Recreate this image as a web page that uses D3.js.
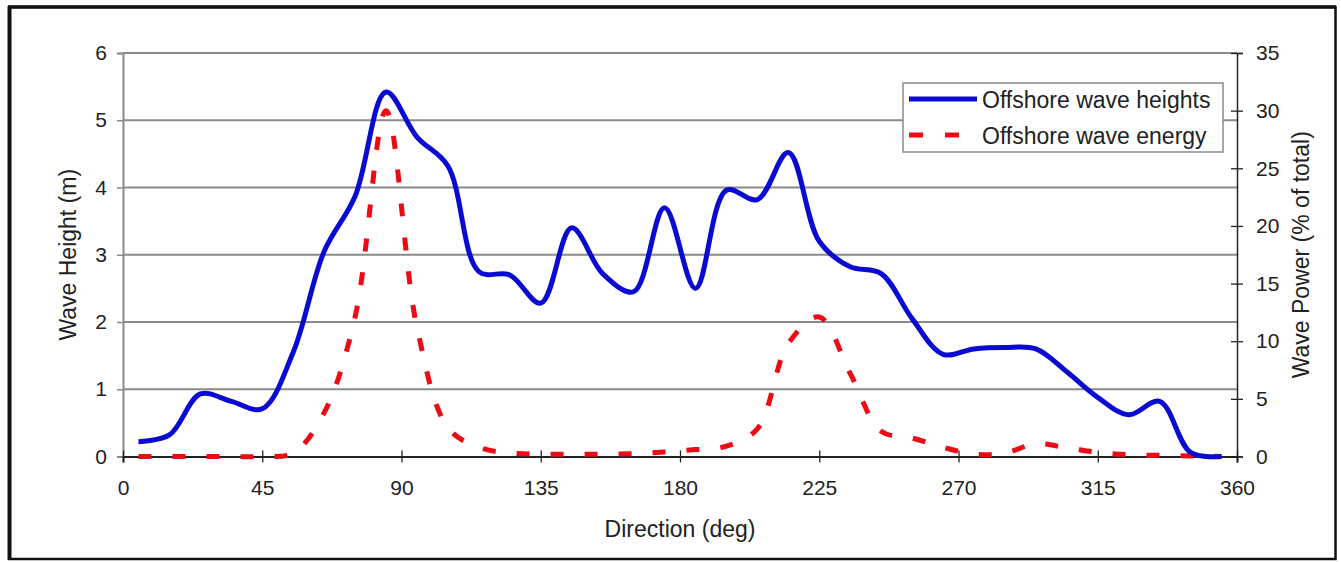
<!DOCTYPE html>
<html>
<head>
<meta charset="utf-8">
<script src="https://cdn.jsdelivr.net/npm/d3@7"></script>
<style>
  html, body { margin: 0; padding: 0; background: #fff; }
  svg { display: block; font-family: "Liberation Sans", Arial, sans-serif; }
</style>
</head>
<body>
<div id="chart"></div>
<script>
// direction bins (deg)
const directions = [5, 15, 25, 35, 45, 55, 65, 75, 85, 95, 105, 115, 125, 135, 145, 155, 165, 175,
  185, 195, 205, 215, 225, 235, 245, 255, 265, 275, 285, 295, 305, 315, 325, 335, 345, 355];
// offshore wave heights (m)
const waveHeights = [0.22, 0.32, 0.93, 0.82, 0.71, 1.55, 3.05, 3.87, 5.42, 4.75, 4.32, 2.75,
  2.7, 2.28, 3.4, 2.72, 2.45, 3.7, 2.5, 3.96, 3.82, 4.52, 3.2, 2.82, 2.72, 2.05, 1.52, 1.6,
  1.62, 1.6, 1.26, 0.88, 0.62, 0.82, 0.06, 0.0];
// offshore wave energy (% of total)
const waveEnergy = [0, 0, 0, 0, 0, 0.3, 3.8, 12.1, 30, 11.2, 2.5, 0.8, 0.3, 0.2, 0.2, 0.2, 0.25,
  0.4, 0.6, 0.9, 2.4, 9.8, 12.1, 7.2, 2.2, 1.6, 0.8, 0.2, 0.3, 1.1, 0.75, 0.35, 0.15, 0.1, 0.05, 0];
const xTicks = [0, 45, 90, 135, 180, 225, 270, 315, 360];
const leftTicks = [0, 1, 2, 3, 4, 5, 6];
const rightTicks = [0, 5, 10, 15, 20, 25, 30, 35];
const seriesNames = ["Offshore wave heights", "Offshore wave energy"];

const W = 1341, H = 562;
const plot = {left: 123, right: 1237, top: 53, bottom: 456.5};
const font = "Liberation Sans, Arial, sans-serif";

const svg = d3.select("#chart").append("svg")
  .attr("width", W).attr("height", H);

// outer frame
svg.append("rect")
  .attr("x", 9.5).attr("y", 7).attr("width", 1326).attr("height", 552)
  .attr("fill", "#fff").attr("stroke", "#111").attr("stroke-width", 2.5);
svg.append("line").attr("x1", 9.5).attr("x2", 9.5).attr("y1", 6).attr("y2", 560)
  .attr("stroke", "#111").attr("stroke-width", 4);
svg.append("line").attr("x1", 8).attr("x2", 1336).attr("y1", 7).attr("y2", 7)
  .attr("stroke", "#111").attr("stroke-width", 3.5);

const x = d3.scaleLinear().domain([0, 360]).range([plot.left, plot.right]);
const yL = d3.scaleLinear().domain([0, 6]).range([plot.bottom, plot.top]);
const yR = d3.scaleLinear().domain([0, 35]).range([plot.bottom, plot.top]);

// gridlines
svg.append("g")
  .selectAll("line")
  .data(leftTicks.filter(d => d > 0))
  .enter().append("line")
    .attr("x1", plot.left).attr("x2", plot.right)
    .attr("y1", d => yL(d)).attr("y2", d => yL(d))
    .attr("stroke", "#8a8a8a").attr("stroke-width", 2);

// left axis
const gL = svg.append("g")
  .attr("transform", "translate(" + plot.left + ",0)")
  .call(d3.axisLeft(yL).tickValues(leftTicks).tickFormat(d3.format("d")).tickSize(6).tickPadding(10));
gL.select(".domain").attr("stroke", "#8a8a8a").attr("stroke-width", 2);
gL.selectAll(".tick line").attr("stroke", "#8a8a8a").attr("stroke-width", 1.5);
gL.selectAll("text").attr("font-size", 21).attr("fill", "#222").attr("font-family", font);

// right axis
const gR = svg.append("g")
  .attr("transform", "translate(" + plot.right + ",0)")
  .call(d3.axisRight(yR).tickValues(rightTicks).tickSize(6).tickPadding(13));
gR.select(".domain").attr("stroke", "#222").attr("stroke-width", 1.5);
gR.selectAll(".tick line").attr("stroke", "#222").attr("stroke-width", 1.3).attr("x1", -6);
gR.selectAll("text").attr("font-size", 21).attr("fill", "#222").attr("font-family", font);

// bottom axis
const gB = svg.append("g")
  .attr("transform", "translate(0," + plot.bottom + ")")
  .call(d3.axisBottom(x).tickValues(xTicks).tickSize(6).tickPadding(18));
gB.select(".domain").attr("stroke", "#222").attr("stroke-width", 2);
gB.selectAll(".tick line").attr("stroke", "#222").attr("stroke-width", 1.3).attr("y1", -6);
gB.selectAll("text").attr("font-size", 21).attr("fill", "#222").attr("font-family", font);

// axis titles
svg.append("text")
  .attr("x", (plot.left + plot.right) / 2).attr("y", 537)
  .attr("text-anchor", "middle").attr("font-size", 23).attr("fill", "#222")
  .text("Direction (deg)");
svg.append("text")
  .attr("transform", "translate(76," + (plot.top + plot.bottom) / 2 + ")rotate(-90)")
  .attr("text-anchor", "middle").attr("font-size", 23).attr("fill", "#222")
  .text("Wave Height (m)");
svg.append("text")
  .attr("transform", "translate(1309," + (plot.top + plot.bottom) / 2 + ")rotate(-90)")
  .attr("text-anchor", "middle").attr("font-size", 23).attr("fill", "#222")
  .text("Wave Power (% of total)");

// series
const heightLine = d3.line()
  .x((d, i) => x(directions[i]))
  .y(d => yL(d))
  .curve(d3.curveCatmullRom);
const energyLine = d3.line()
  .x((d, i) => x(directions[i]))
  .y(d => yR(d))
  .curve(d3.curveCatmullRom);

svg.append("path")
  .datum(waveEnergy)
  .attr("d", energyLine)
  .attr("fill", "none")
  .attr("stroke", "#ee0a14")
  .attr("stroke-width", 5)
  .attr("stroke-dasharray", "13,21");

svg.append("path")
  .datum(waveHeights)
  .attr("d", heightLine)
  .attr("fill", "none")
  .attr("stroke", "#0a0ad2")
  .attr("stroke-width", 5)
  .attr("stroke-linejoin", "round");

// legend
const legend = svg.append("g").attr("transform", "translate(903,83)");
legend.append("rect")
  .attr("width", 320).attr("height", 69)
  .attr("fill", "#fff").attr("stroke", "#8a8a8a").attr("stroke-width", 1.5);
legend.append("line")
  .attr("x1", 6).attr("x2", 74).attr("y1", 16).attr("y2", 16)
  .attr("stroke", "#0a0ad2").attr("stroke-width", 5);
legend.append("line")
  .attr("x1", 6).attr("x2", 74).attr("y1", 52).attr("y2", 52)
  .attr("stroke", "#ee0a14").attr("stroke-width", 5).attr("stroke-dasharray", "14,22");
legend.selectAll("text.lbl")
  .data(seriesNames)
  .enter().append("text")
    .attr("class", "lbl")
    .attr("x", 79).attr("y", (d, i) => 25 + i * 36)
    .attr("font-size", 23).attr("fill", "#222")
    .text(d => d);
</script>
</body>
</html>
